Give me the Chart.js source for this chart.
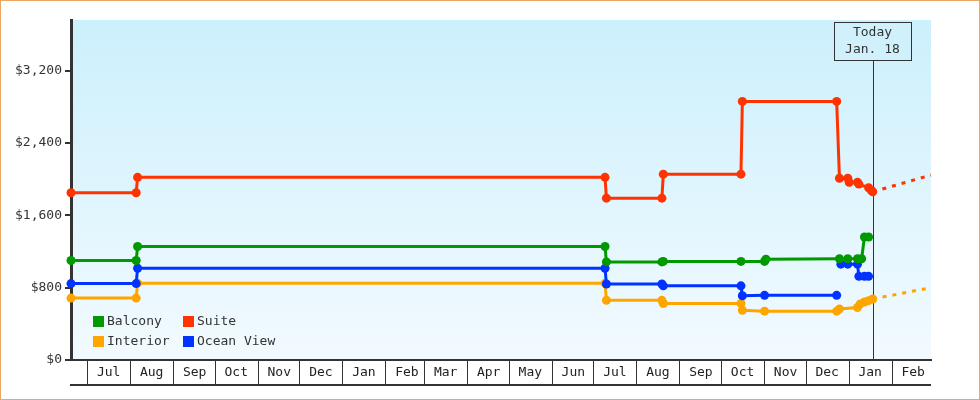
<!DOCTYPE html>
<html><head><meta charset="utf-8">
<script src="https://cdn.jsdelivr.net/npm/chart.js@4.4.0/dist/chart.umd.min.js"></script>
<style>
html,body{margin:0;padding:0;background:#fff;}
#wrap{position:relative;width:980px;height:400px;}
#frame{position:absolute;left:0;top:0;width:980px;height:400px;box-sizing:border-box;border:1px solid #e8a862;pointer-events:none;}
canvas{display:block;}
</style></head><body>
<div id="wrap"><canvas id="c" width="980" height="400"></canvas><div id="frame"></div></div>
<script>
// ---- data ----
const monthTicks = ['2022-07-01','2022-08-01','2022-09-01','2022-10-01','2022-11-01','2022-12-01','2023-01-01','2023-02-01','2023-03-01','2023-04-01','2023-05-01','2023-06-01','2023-07-01','2023-08-01','2023-09-01','2023-10-01','2023-11-01','2023-12-01','2024-01-01','2024-02-01'];
const monthLabels = ['Jul','Aug','Sep','Oct','Nov','Dec','Jan','Feb','Mar','Apr','May','Jun','Jul','Aug','Sep','Oct','Nov','Dec','Jan','Feb'];
const rangeStart = '2022-06-19';
const rangeEnd = '2024-02-29';
const todayDate = '2024-01-18';
const todayLabel = ['Today','Jan. 18'];
const yTickValues = [0,800,1600,2400,3200];
const yMax = 3760;

const balconyDates = ['2022-06-19','2022-08-05','2022-08-06','2023-07-09','2023-07-10','2023-08-19','2023-08-20','2023-10-15','2023-11-01','2023-11-02','2023-12-25','2023-12-31','2024-01-07','2024-01-10','2024-01-12','2024-01-15'];
const balconyValues = [1100,1100,1255,1255,1085,1085,1090,1090,1090,1115,1120,1120,1120,1120,1360,1360];

const suiteDates = ['2022-06-19','2022-08-05','2022-08-06','2023-07-09','2023-07-10','2023-08-19','2023-08-20','2023-10-15','2023-10-16','2023-12-23','2023-12-25','2023-12-31','2024-01-01','2024-01-07','2024-01-08','2024-01-15','2024-01-17','2024-01-18'];
const suiteValues = [1850,1850,2020,2020,1790,1790,2055,2055,2860,2860,2010,2010,1965,1965,1945,1905,1875,1860];

const interiorDates = ['2022-06-19','2022-08-05','2022-08-06','2023-07-09','2023-07-10','2023-08-19','2023-08-20','2023-10-15','2023-10-16','2023-11-01','2023-12-23','2023-12-25','2024-01-07','2024-01-09','2024-01-12','2024-01-15','2024-01-18'];
const interiorValues = [685,685,850,850,660,660,625,625,550,540,540,565,580,620,642,656,675];

const oceanDates = ['2022-06-19','2022-08-05','2022-08-06','2023-07-09','2023-07-10','2023-08-19','2023-08-20','2023-10-15','2023-10-16','2023-11-01','2023-12-23','2023-12-24','2023-12-26','2023-12-31','2024-01-07','2024-01-08','2024-01-12','2024-01-15'];
const oceanValues = [845,845,1015,1015,840,840,820,820,710,715,715,null,1060,1060,1060,925,925,925];

const suiteForecastDates = ['2024-01-18','2024-02-29'];
const suiteForecastValues = [1860,2045];
const interiorForecastDates = ['2024-01-18','2024-02-29'];
const interiorForecastValues = [675,800];

const seriesNames = ['Balcony','Suite','Interior','Ocean View'];
const seriesColors = ['#009900','#ff3300','#ffa500','#0033ff'];

// ---- helpers ----
const ts = d => { const [y,m,dd] = d.split('-').map(Number); return Date.UTC(y, m-1, dd); };
const pts = (ds, vs) => ds.map((d,i) => ({x: ts(d), y: vs[i]}));
const FONT = 'DejaVu Sans Mono';

function lineSet(label, data, color, extra) {
  return Object.assign({
    label, data, borderColor: color, backgroundColor: color,
    pointBackgroundColor: color, pointBorderColor: color,
    borderWidth: 3, pointRadius: 4.5, pointBorderWidth: 0, pointHoverRadius: 4.5,
    tension: 0, spanGaps: false, clip: false, fill: false
  }, extra || {});
}

const datasets = [
  lineSet(seriesNames[0], pts(balconyDates, balconyValues), seriesColors[0]),
  lineSet(seriesNames[1], pts(suiteDates, suiteValues), seriesColors[1]),
  lineSet(seriesNames[3], pts(oceanDates, oceanValues), seriesColors[3]),
  lineSet(seriesNames[2], pts(interiorDates, interiorValues), seriesColors[2]),
  lineSet('', pts(suiteForecastDates, suiteForecastValues), seriesColors[1], {borderDash:[4,6], pointRadius:0, pointHoverRadius:0}),
  lineSet('', pts(interiorForecastDates, interiorForecastValues), seriesColors[2], {borderDash:[4,6], pointRadius:0, pointHoverRadius:0})
];

const decor = {
  id: 'decor',
  beforeDraw(chart) {
    const {ctx, chartArea: a} = chart;
    const g = ctx.createLinearGradient(0, a.top, 0, a.bottom);
    g.addColorStop(0, '#ccf0fc');
    g.addColorStop(1, '#f2faff');
    ctx.save();
    ctx.fillStyle = g;
    ctx.fillRect(a.left, a.top, a.right - a.left, a.bottom - a.top);
    ctx.restore();
  },
  beforeDatasetsDraw(chart) {
    const {ctx, chartArea: a, scales} = chart;
    ctx.save();
    ctx.strokeStyle = '#333';
    ctx.lineWidth = 2;
    ctx.beginPath();
    ctx.moveTo(a.left - 1, a.bottom + 25);
    ctx.lineTo(a.right, a.bottom + 25);
    ctx.stroke();
    const tx = Math.round(scales.x.getPixelForValue(ts(todayDate))) + 0.5;
    ctx.lineWidth = 1;
    ctx.beginPath();
    ctx.moveTo(tx, a.top + 40);
    ctx.lineTo(tx, a.bottom);
    ctx.stroke();
    const bw = 77, bh = 38;
    const bx = Math.round(tx - 1 - bw/2) + 0.5, by = a.top + 2.5;
    ctx.fillStyle = '#d0f1fc';
    ctx.fillRect(bx, by, bw, bh);
    ctx.strokeRect(bx, by, bw, bh);
    ctx.fillStyle = '#333';
    ctx.font = '13px "' + FONT + '"';
    ctx.textAlign = 'center';
    ctx.textBaseline = 'middle';
    ctx.fillText(todayLabel[0], tx - 1, by + 10);
    ctx.fillText(todayLabel[1], tx - 1, by + 27);
    ctx.restore();
  },
  afterDatasetsDraw(chart) {
    const {ctx} = chart;
    ctx.save();
    ctx.font = '13px "' + FONT + '"';
    ctx.textAlign = 'left';
    ctx.textBaseline = 'middle';
    const pos = [[93,316],[183,316],[93,336],[183,336]];
    pos.forEach((p,i) => {
      ctx.fillStyle = seriesColors[i];
      ctx.fillRect(p[0], p[1], 11, 11);
      ctx.fillStyle = '#333';
      ctx.fillText(seriesNames[i], p[0] + 14, p[1] + 6);
    });
    ctx.restore();
  }
};

new Chart(document.getElementById('c'), {
  type: 'line',
  data: { datasets },
  options: {
    responsive: false,
    animation: false,
    events: [],
    layout: { padding: { top: 20, right: 49, bottom: 0, left: 0 } },
    plugins: { legend: { display: false }, tooltip: { enabled: false } },
    scales: {
      x: {
        type: 'linear', position: 'bottom', bounds: 'data',
        min: ts(rangeStart), max: ts(rangeEnd),
        afterBuildTicks: s => { s.ticks = monthTicks.map(d => ({ value: ts(d) })); },
        afterFit: s => { s.height = 40; },
        grid: { drawOnChartArea: false, drawTicks: true, tickLength: 25, color: '#333', lineWidth: 1 },
        border: { display: true, color: '#333', width: 2 },
        ticks: {
          autoSkip: false, maxRotation: 0, minRotation: 0, labelOffset: 21, padding: -20,
          font: { family: FONT, size: 13 }, color: '#222',
          callback: (v, i) => monthLabels[i]
        }
      },
      y: {
        type: 'linear', min: 0, max: yMax,
        afterBuildTicks: s => { s.ticks = yTickValues.map(v => ({ value: v })); },
        afterFit: s => { s.width = 71; },
        grid: { drawOnChartArea: false, drawTicks: true, tickLength: 6, color: '#333', lineWidth: 2 },
        border: { display: true, color: '#333', width: 3 },
        ticks: {
          padding: 3,
          font: { family: FONT, size: 13 }, color: '#333',
          callback: (v, i) => '$' + yTickValues[i].toLocaleString('en-US')
        }
      }
    }
  },
  plugins: [decor]
});
</script>
</body></html>
